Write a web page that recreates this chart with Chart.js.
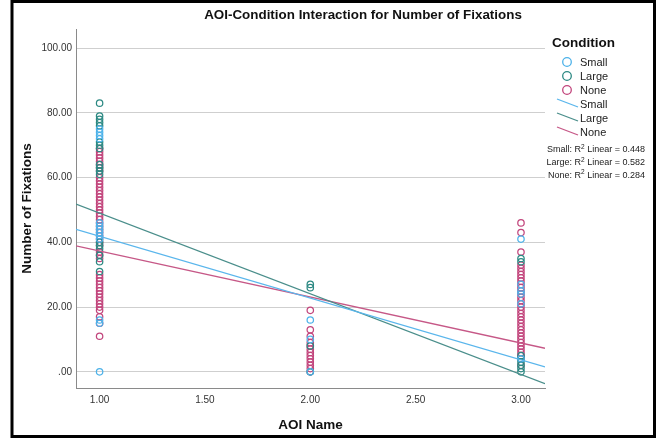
<!DOCTYPE html>
<html>
<head>
<meta charset="utf-8">
<script src="https://cdn.jsdelivr.net/npm/chart.js@4"></script>
<style>
  html, body { margin: 0; padding: 0; background: #fff; }
  #wrap { width: 657px; height: 440px; position: relative; }
</style>
</head>
<body>
<div id="wrap"><canvas id="c" width="657" height="440"></canvas></div>
<script>
// AOI positions on the x axis and the tick labels
const aoiPositions = [1, 2, 3];
const xTicks = [1, 1.5, 2, 2.5, 3];
const yTicks = [0, 20, 40, 60, 80, 100];
const conditions = ['Small', 'Large', 'None'];

// Number of fixations per participant, one inner list per AOI (1, 2, 3)
const smallFix = [
  [0, 15, 16, 41, 42, 43, 44, 45, 46, 72, 73, 74, 75],
  [0, 10, 16],
  [4, 21, 24, 25, 27, 41]
];
const largeFix = [
  [31, 34, 36, 38, 39, 40, 61, 62, 63, 64, 69, 70, 71, 76, 77, 78, 79, 83],
  [0, 8, 26, 27],
  [0, 1, 2, 3, 4, 5, 34, 35]
];
const noneFix = [
  [11, 15, 17, 19, 20, 21, 22, 23, 24, 25, 26, 27, 28, 29, 30, 35, 36, 37, 39, 40, 41, 42, 43, 44, 45, 46, 47, 48, 49, 50, 51, 52, 53, 54, 55, 56, 57, 58, 59, 60, 62, 63, 64, 65, 66, 67, 68, 69],
  [0, 1, 2, 3, 4, 5, 6, 7, 8, 9, 11, 13, 19],
  [2, 4, 5, 6, 7, 8, 9, 10, 11, 12, 13, 14, 15, 16, 17, 18, 19, 20, 21, 22, 23, 24, 25, 26, 27, 28, 29, 30, 31, 32, 33, 37, 43, 46]
];

// Linear fit per condition: fixations = intercept + slope * AOI
const fitIntercepts = [61.0, 73.9, 51.5];
const fitSlopes = [-19.1, -24.9, -14.2];
const rSquared = [0.448, 0.582, 0.284];

const pointColors = ['#4db2e9', '#2c8983', '#c2457c'];
const lineColors = ['#5ab6ec', '#4a8e8b', '#c65887'];

const X_MIN = 0.888, X_MAX = 3.114;
const Y_MIN = -5.0, Y_MAX = 105.9;
const FONT = '"Liberation Sans", Arial, sans-serif';

function toPoints(lists) {
  const pts = [];
  lists.forEach((vals, i) => vals.forEach(v => pts.push({ x: aoiPositions[i], y: v })));
  return pts;
}

// draw weight: None at the bottom, then Large, Small on top
const pointOrder = [6, 8, 10];

const series = [smallFix, largeFix, noneFix];
const datasets = [];
series.forEach((lists, k) => {
  datasets.push({
    label: conditions[k],
    data: toPoints(lists),
    showLine: false,
    pointStyle: 'circle',
    pointRadius: 3.2,
    pointBorderWidth: 1.25,
    pointBackgroundColor: 'rgba(0,0,0,0)',
    pointBorderColor: pointColors[k],
    pointHoverRadius: 3.2,
    order: pointOrder[k]
  });
});
series.forEach((lists, k) => {
  datasets.push({
    label: conditions[k] + ' fit',
    data: [X_MIN, X_MAX].map(x => ({ x, y: fitIntercepts[k] + fitSlopes[k] * x })),
    showLine: true,
    pointRadius: 0,
    borderColor: lineColors[k],
    borderWidth: 1.3,
    fill: false,
    order: 1
  });
});

// Title, legend block and outer frame
const decorations = {
  id: 'decorations',
  afterDraw(chart) {
    const ctx = chart.ctx;
    ctx.save();
    // frame
    ctx.strokeStyle = '#000';
    ctx.lineWidth = 3;
    ctx.strokeRect(12, 1.5, 642.5, 435);

    // title
    ctx.fillStyle = '#111';
    ctx.font = 'bold 13.4px ' + FONT;
    ctx.textAlign = 'center';
    ctx.textBaseline = 'middle';
    ctx.fillText('AOI-Condition Interaction for Number of Fixations', 363, 15.5);

    // legend heading
    ctx.textAlign = 'left';
    ctx.font = 'bold 13.5px ' + FONT;
    ctx.fillText('Condition', 552, 43);

    ctx.font = '11px ' + FONT;
    ctx.fillStyle = '#222';
    conditions.forEach((name, k) => {
      const y = 62 + k * 14;
      ctx.beginPath();
      ctx.arc(567, y, 4.3, 0, Math.PI * 2);
      ctx.strokeStyle = pointColors[k];
      ctx.lineWidth = 1.3;
      ctx.stroke();
      ctx.fillText(name, 580, y + 0.5);
    });
    conditions.forEach((name, k) => {
      const y = 104 + k * 14;
      ctx.beginPath();
      ctx.moveTo(557, y - 5);
      ctx.lineTo(578, y + 3);
      ctx.strokeStyle = lineColors[k];
      ctx.lineWidth = 1.3;
      ctx.stroke();
      ctx.fillText(name, 580, y + 0.5);
    });

    // R² notes, right aligned
    conditions.forEach((name, k) => {
      const y = 150 + k * 12.8;
      const a = name + ': R';
      const b = ' Linear = ' + rSquared[k].toFixed(3);
      ctx.font = '9px ' + FONT;
      const wa = ctx.measureText(a).width;
      const wb = ctx.measureText(b).width;
      ctx.font = '6.5px ' + FONT;
      const ws = ctx.measureText('2').width;
      const x = 645 - (wa + ws + wb);
      ctx.textAlign = 'left';
      ctx.fillStyle = '#222';
      ctx.font = '9px ' + FONT;
      ctx.fillText(a, x, y);
      ctx.font = '6.5px ' + FONT;
      ctx.fillText('2', x + wa, y - 3);
      ctx.font = '9px ' + FONT;
      ctx.fillText(b, x + wa + ws, y);
    });
    ctx.restore();
  }
};

new Chart(document.getElementById('c'), {
  type: 'scatter',
  data: { datasets },
  options: {
    responsive: false,
    animation: false,
    events: [],
    layout: { padding: { left: 14, top: 29, right: 112, bottom: 3 } },
    plugins: { legend: { display: false }, tooltip: { enabled: false }, title: { display: false } },
    scales: {
      x: {
        type: 'linear',
        min: X_MIN,
        max: X_MAX,
        afterBuildTicks: s => { s.ticks = xTicks.map(v => ({ value: v })); },
        afterFit: s => { s.height = 49; },
        grid: { display: false, drawTicks: false },
        border: { display: true, color: '#8a8a8a', width: 1 },
        ticks: {
          padding: 6,
          color: '#333',
          font: { family: FONT, size: 10 },
          maxRotation: 0,
          callback: v => v.toFixed(2)
        },
        title: {
          display: true,
          text: 'AOI Name',
          color: '#111',
          font: { family: FONT, size: 13.5, weight: 'bold' },
          padding: { top: 4, bottom: 4 }
        }
      },
      y: {
        type: 'linear',
        min: Y_MIN,
        max: Y_MAX,
        afterBuildTicks: s => { s.ticks = yTicks.map(v => ({ value: v })); },
        afterFit: s => { s.width = 62; },
        grid: { display: true, color: '#cfcfcf', lineWidth: 1, drawTicks: false },
        border: { display: true, color: '#8a8a8a', width: 1 },
        ticks: {
          padding: 4,
          color: '#333',
          font: { family: FONT, size: 10 },
          callback: v => (v === 0 ? '.00' : v.toFixed(2))
        },
        title: {
          display: true,
          text: 'Number of Fixations',
          color: '#111',
          font: { family: FONT, size: 13.5, weight: 'bold' },
          padding: { top: 5, bottom: 5 }
        }
      }
    }
  },
  plugins: [decorations]
});
</script>
</body>
</html>
